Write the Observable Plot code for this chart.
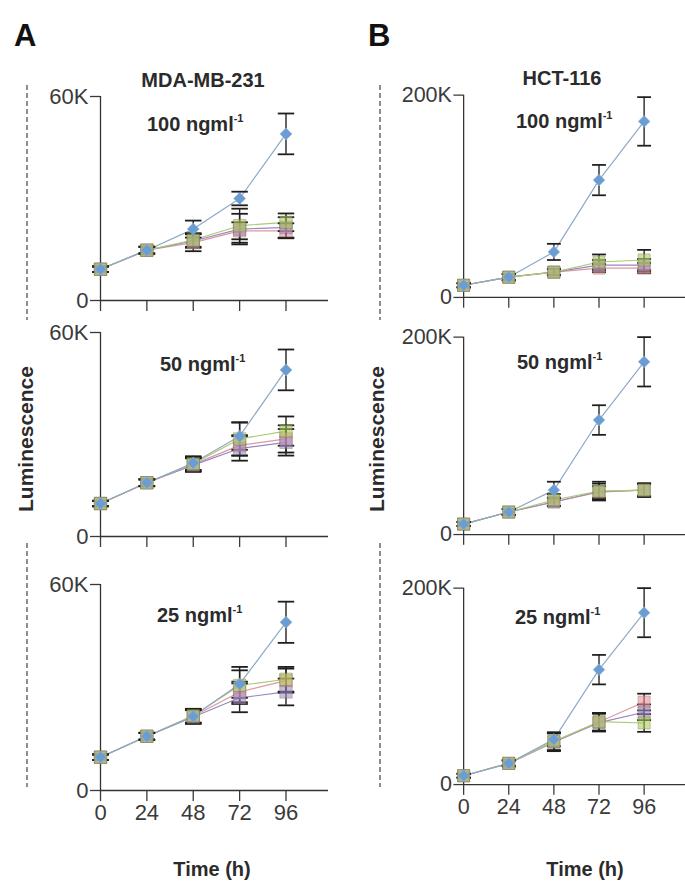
<!DOCTYPE html>
<html>
<head>
<meta charset="utf-8">
<script src="https://cdn.jsdelivr.net/npm/d3@7"></script>
<script src="https://cdn.jsdelivr.net/npm/@observablehq/plot@0.6"></script>
<style>
  html, body { margin: 0; padding: 0; background: #fff; }
  #fig { position: relative; width: 685px; height: 881px; overflow: hidden; background: #fff;
         font-family: "Liberation Sans", Arial, Helvetica, sans-serif; color: #333; }
  .panel { position: absolute; }
  #overlay { position: absolute; left: 0; top: 0; }
</style>
</head>
<body>
<div id="fig"></div>
<script>
// ---------------- DATA (values in thousands of luminescence units) ----------------
const times = [0, 24, 48, 72, 96];
const seriesNames = ["pink", "purple", "green", "blue"];

// MDA-MB-231, 100 ng/ml
const mda100Mean = [
  [9.2, 14.8, 17.0, 20.5, 20.5],
  [9.2, 14.8, 17.5, 21.0, 21.5],
  [9.2, 14.8, 17.8, 22.0, 23.0],
  [9.2, 14.8, 21.0, 30.0, 49.0]
];
const mda100Err = [
  [0.8, 1.0, 2.5, 2.5, 2.2],
  [0.8, 1.0, 2.0, 4.5, 3.0],
  [0.8, 1.0, 2.0, 5.0, 2.6],
  [0.8, 1.0, 2.5, 2.0, 6.0]
];
// MDA-MB-231, 50 ng/ml
const mda50Mean = [
  [9.7, 15.8, 21.2, 26.8, 28.7],
  [9.7, 15.8, 21.0, 25.9, 27.7],
  [9.7, 15.8, 21.4, 28.7, 31.0],
  [9.7, 15.8, 21.6, 29.5, 49.0]
];
const mda50Err = [
  [0.8, 1.0, 2.0, 3.0, 4.0],
  [0.8, 1.0, 2.0, 3.6, 3.9],
  [0.8, 1.0, 2.0, 4.9, 4.3],
  [0.8, 1.0, 2.0, 4.0, 6.0]
];
// MDA-MB-231, 25 ng/ml
const mda25Mean = [
  [9.7, 15.8, 21.6, 28.7, 32.0],
  [9.7, 15.8, 21.4, 27.0, 28.7],
  [9.7, 15.8, 21.8, 30.6, 32.4],
  [9.7, 15.8, 21.6, 31.0, 49.0]
];
const mda25Err = [
  [0.8, 1.0, 2.0, 3.0, 3.5],
  [0.8, 1.0, 2.0, 4.2, 3.9],
  [0.8, 1.0, 2.0, 5.4, 3.6],
  [0.8, 1.0, 2.0, 4.0, 6.0]
];
// HCT-116, 100 ng/ml
const hct100Mean = [
  [12, 20, 25, 29, 29],
  [12, 20, 25, 32, 32],
  [12, 20, 25, 35, 37],
  [12, 20, 45, 116, 174]
];
const hct100Err = [
  [2, 3, 3, 4, 5],
  [2, 3, 3, 5, 6],
  [2, 3, 3, 7.5, 10],
  [2, 3, 8, 15, 24]
];
// HCT-116, 50 ng/ml
const hct50Mean = [
  [10.6, 22.8, 33, 43, 45],
  [10.6, 22.8, 33, 43.6, 45],
  [10.6, 22.8, 35, 44, 45],
  [10.6, 22.8, 45, 116, 175]
];
const hct50Err = [
  [2, 3, 4, 6, 6],
  [2, 3, 4, 8, 6.5],
  [2, 3, 6, 9.5, 7],
  [2, 3, 8.5, 15, 25]
];
// HCT-116, 25 ng/ml
const hct25Mean = [
  [9, 21.6, 43.8, 63.7, 84],
  [9, 21.6, 43, 63, 73.6],
  [9, 21.6, 44, 64, 62.7],
  [9, 21.6, 46, 117, 175]
];
const hct25Err = [
  [2, 3, 9, 9, 8.5],
  [2, 3, 9, 9, 8],
  [2, 3, 9, 9, 9],
  [2, 3, 7, 15, 25]
];

const yTicksA = [0, 60];
const yTicksB = [0, 200];
const cellLines = ["MDA-MB-231", "HCT-116"];
const concLabels = ["100 ngml", "50 ngml", "25 ngml"];

// ---------------- STYLE ----------------
const fillColor = { pink: "#ee8e98", purple: "#a08ac4", green: "#a9c957", blue: "#6b9dd3" };
const lineColor = { pink: "#dd97a2", purple: "#9788c0", green: "#adc974", blue: "#8ea8c7" };
const FONT = "'Liberation Sans', Arial, Helvetica, sans-serif";

function buildRows(mean, err) {
  const rows = [];
  seriesNames.forEach((s, i) => {
    times.forEach((t, j) => {
      rows.push({ series: s, t, v: mean[i][j], lo: mean[i][j] - err[i][j], hi: mean[i][j] + err[i][j] });
    });
  });
  return rows;
}

function capSymbol() {
  return {
    draw(ctx, size) {
      const w = Math.sqrt(size);
      ctx.moveTo(-w / 2, 0);
      ctx.lineTo(w / 2, 0);
    }
  };
}

function makePanel(cfg) {
  const rows = buildRows(cfg.mean, cfg.err);
  const caps = rows.flatMap(d => [{ t: d.t, y: d.lo }, { t: d.t, y: d.hi }]);
  const squares = rows.filter(d => d.series !== "blue");
  const diamonds = rows.filter(d => d.series === "blue");
  return Plot.plot({
    width: cfg.w, height: cfg.h,
    marginLeft: cfg.ml, marginRight: cfg.mr, marginTop: 16, marginBottom: cfg.mb,
    x: { domain: [0, 118] },
    y: { domain: [0, cfg.yTicks[1]] },
    color: { type: "identity" },
    style: { fontFamily: FONT, fontSize: "22px", color: "#3a3a3a", background: "transparent", overflow: "visible" },
    marks: [
      Plot.axisY(cfg.yTicks, {
        tickSize: 10, tickPadding: 2, fontSize: 22, label: null, color: "#3a3a3a", strokeWidth: 1.3,
        tickFormat: d => (d ? d + "K" : "0")
      }),
      Plot.axisX(times, {
        tickSize: 11, tickPadding: 3, fontSize: 22, label: null, color: "#3a3a3a", strokeWidth: 1.3,
        tickFormat: cfg.bottom ? (d => String(d)) : (() => "")
      }),
      Plot.ruleY([0], { stroke: "#333", strokeWidth: 1.3 }),
      Plot.ruleX([0], { stroke: "#333", strokeWidth: 1.3 }),
      Plot.line(rows, { x: "t", y: "v", z: "series", stroke: d => lineColor[d.series], strokeWidth: 1.2 }),
      Plot.ruleX(rows, { x: "t", y1: "lo", y2: "hi", stroke: "#222", strokeWidth: 1.4 }),
      Plot.dot(caps, { x: "t", y: "y", symbol: capSymbol(), r: cfg.capR, stroke: "#1e1e1e", strokeWidth: 1.8, fill: "none" }),
      Plot.dot(squares, {
        x: "t", y: "v", symbol: "square", r: 7,
        fill: d => fillColor[d.series], fillOpacity: 0.58,
        stroke: "#6f6a4a", strokeOpacity: 0.35, strokeWidth: 1
      }),
      Plot.dot(diamonds, { x: "t", y: "v", symbol: "diamond2", r: 5.4, fill: fillColor.blue, stroke: "#8fb3dc", strokeWidth: 0.6 })
    ]
  });
}

const panels = [
  { mean: mda100Mean, err: mda100Err, yTicks: yTicksA, left: 0, top: 80, w: 330, h: 234, ml: 100, mr: 2, mb: 14, bottom: false, capR: 9.3 },
  { mean: mda50Mean, err: mda50Err, yTicks: yTicksA, left: 0, top: 316, w: 330, h: 234, ml: 100, mr: 2, mb: 14, bottom: false, capR: 9.3 },
  { mean: mda25Mean, err: mda25Err, yTicks: yTicksA, left: 0, top: 568, w: 330, h: 262, ml: 100, mr: 2, mb: 40, bottom: true, capR: 9.3 },
  { mean: hct100Mean, err: hct100Err, yTicks: yTicksB, left: 340, top: 79, w: 353, h: 237, ml: 126, mr: 0, mb: 14, bottom: false, capR: 8.0 },
  { mean: hct50Mean, err: hct50Err, yTicks: yTicksB, left: 340, top: 321, w: 353, h: 232, ml: 126, mr: 0, mb: 14, bottom: false, capR: 8.0 },
  { mean: hct25Mean, err: hct25Err, yTicks: yTicksB, left: 340, top: 572, w: 353, h: 257, ml: 126, mr: 0, mb: 40, bottom: true, capR: 8.0 }
];

const fig = document.getElementById("fig");
panels.forEach(cfg => {
  const div = document.createElement("div");
  div.className = "panel";
  div.style.left = cfg.left + "px";
  div.style.top = cfg.top + "px";
  div.appendChild(makePanel(cfg));
  fig.appendChild(div);
});

// ---------------- Annotations overlay ----------------
const NS = "http://www.w3.org/2000/svg";
const ov = document.createElementNS(NS, "svg");
ov.setAttribute("id", "overlay");
ov.setAttribute("width", 685);
ov.setAttribute("height", 881);
ov.setAttribute("font-family", FONT);
fig.appendChild(ov);

function txt(x, y, s, opts = {}) {
  const t = document.createElementNS(NS, "text");
  t.setAttribute("x", x);
  t.setAttribute("y", y);
  t.setAttribute("font-size", opts.size || 20);
  t.setAttribute("font-weight", opts.weight || "bold");
  t.setAttribute("fill", opts.fill || "#2b2b2b");
  if (opts.anchor) t.setAttribute("text-anchor", opts.anchor);
  if (opts.transform) t.setAttribute("transform", opts.transform);
  t.textContent = s;
  if (opts.sup) {
    const sp = document.createElementNS(NS, "tspan");
    sp.setAttribute("font-size", 11);
    sp.setAttribute("dy", -9);
    sp.textContent = opts.sup;
    t.appendChild(sp);
  }
  ov.appendChild(t);
  return t;
}
function dashed(x, y1, y2) {
  const l = document.createElementNS(NS, "line");
  l.setAttribute("x1", x); l.setAttribute("x2", x);
  l.setAttribute("y1", y1); l.setAttribute("y2", y2);
  l.setAttribute("stroke", "#444");
  l.setAttribute("stroke-width", 1.2);
  l.setAttribute("stroke-dasharray", "5,3");
  ov.appendChild(l);
}

txt(14, 46, "A", { size: 31, fill: "#111" });
txt(368, 46, "B", { size: 31, fill: "#111" });
txt(203, 87, cellLines[0], { anchor: "middle" });
txt(562, 85, cellLines[1], { anchor: "middle" });

txt(147, 131, concLabels[0], { sup: "-1" });
txt(160, 371, concLabels[1], { sup: "-1" });
txt(157, 622, concLabels[2], { sup: "-1" });
txt(516, 128, concLabels[0], { sup: "-1" });
txt(517, 369, concLabels[1], { sup: "-1" });
txt(515, 624, concLabels[2], { sup: "-1" });

txt(0, 0, "Luminescence", { anchor: "middle", size: 21, transform: "translate(33,439) rotate(-90)" });
txt(0, 0, "Luminescence", { anchor: "middle", size: 21, transform: "translate(384,439) rotate(-90)" });
txt(212, 876, "Time (h)", { anchor: "middle" });
txt(585, 876, "Time (h)", { anchor: "middle" });

dashed(27, 85, 320);
dashed(27, 543, 787);
dashed(380, 85, 320);
dashed(380, 543, 787);
</script>
</body>
</html>
